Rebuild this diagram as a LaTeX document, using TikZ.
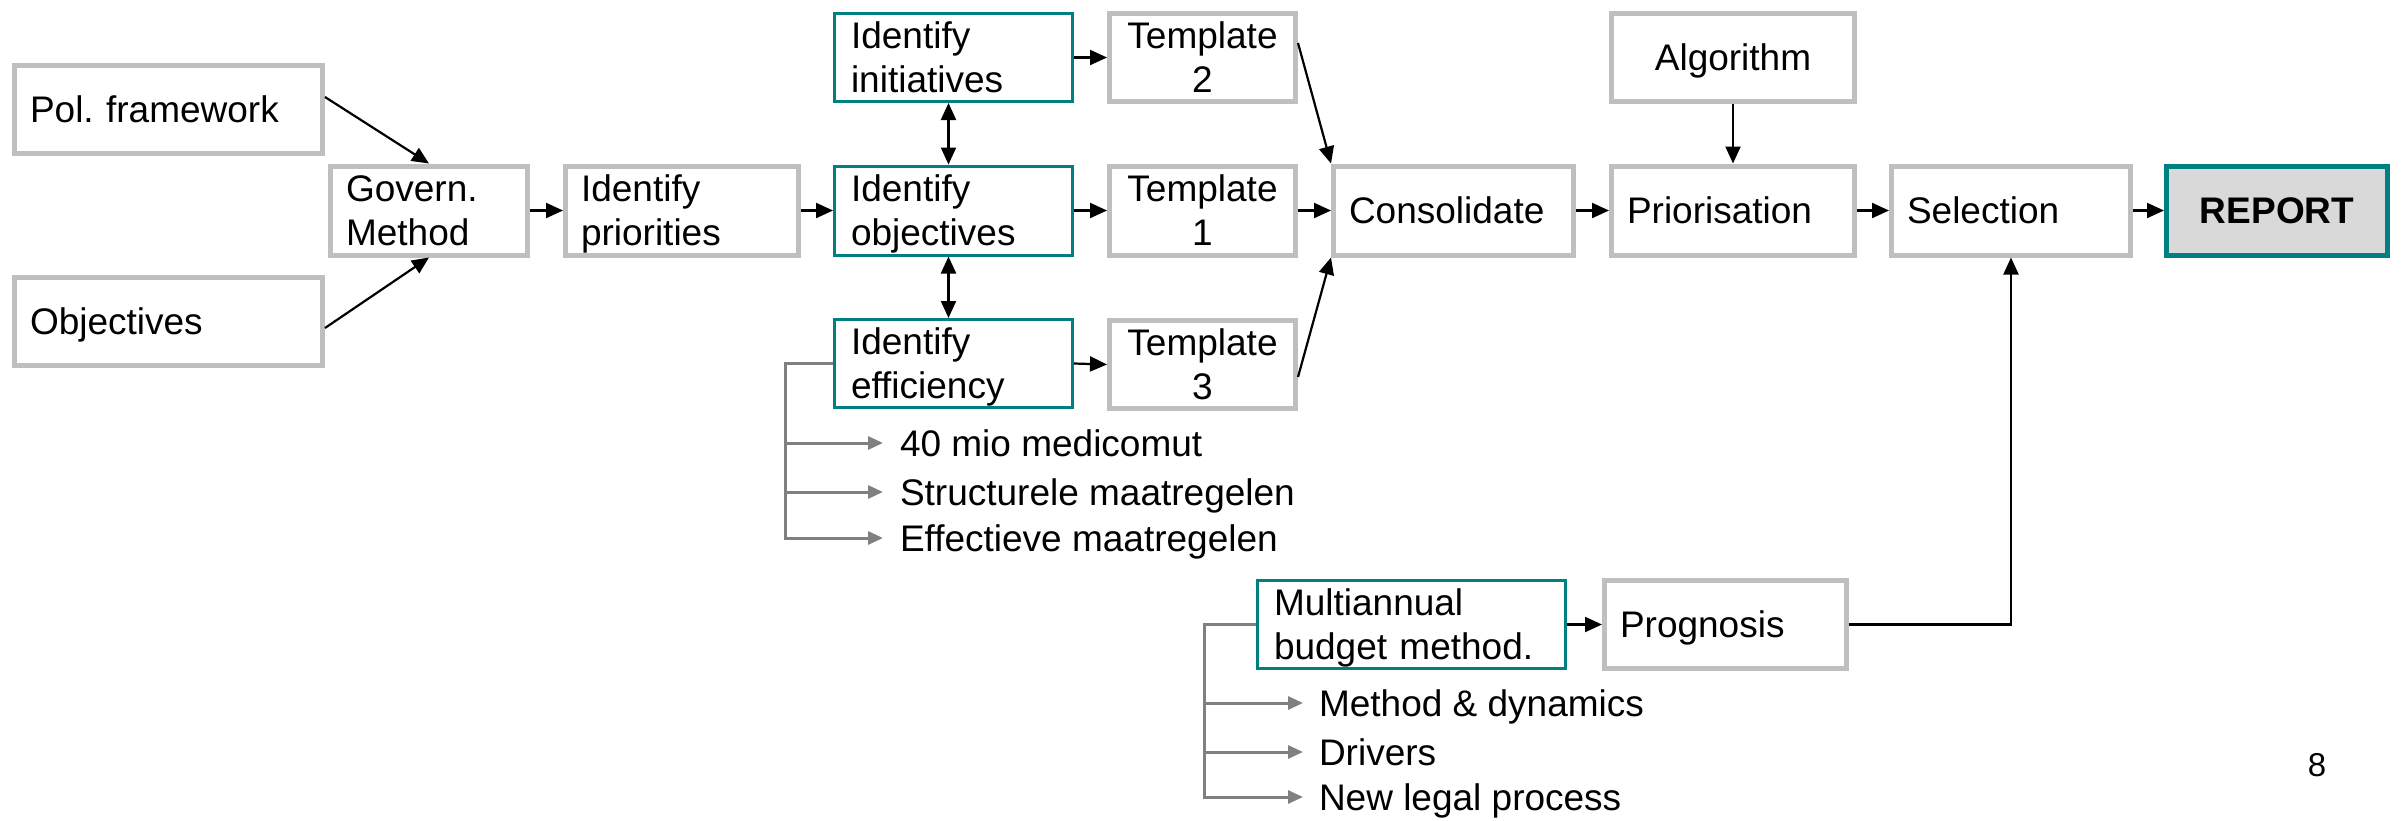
\documentclass[tikz,border=0pt]{standalone}
\usepackage{fontspec}
\setmainfont{Liberation Sans}
\usetikzlibrary{arrows.meta}
\definecolor{boxgray}{RGB}{191,191,191}
\definecolor{tealc}{RGB}{0,128,128}
\definecolor{repfill}{RGB}{217,217,217}
\definecolor{brgray}{RGB}{128,128,128}
\frenchspacing
\begin{document}
\begin{tikzpicture}[x=1pt,y=-1pt,
  every node/.style={font=\fontsize{37pt}{44pt}\selectfont},
  gbox/.style={draw=boxgray, line width=5pt, inner xsep=15.5pt, inner ysep=0pt, align=left},
  tbox/.style={draw=tealc, line width=3pt, inner xsep=16.5pt, inner ysep=0pt, align=left},
  one/.style={text depth=0pt},
  ctr/.style={align=center},
  arr/.style={line width=2.2pt, -{Triangle[length=17pt,width=15pt]}},
  darr/.style={line width=2.2pt, {Triangle[length=17pt,width=15pt]}-{Triangle[length=17pt,width=15pt]}},
  garr/.style={draw=brgray, line width=3pt, -{Triangle[length=15pt,width=13pt]}},
  item/.style={anchor=west, inner xsep=17pt, inner ysep=0pt, outer sep=0pt, text depth=0pt},
]
\useasboundingbox (0,0) rectangle (2402,820);

% left column
\node[gbox, one, text width=277pt, minimum height=88pt] (pol) at (168.5,109.5) {Pol.\ framework};
\node[gbox, one, text width=277pt, minimum height=88pt] (obj) at (168.5,321.5) {Objectives};
\node[gbox, text width=166pt, minimum height=89pt] (gov) at (429,210.5) {Govern.\\Method};
\node[gbox, text width=202pt, minimum height=89pt] (pri) at (682,210.5) {Identify\\\smash{priorities}};

% identify column
\node[tbox, text width=205pt, minimum height=88pt] (ini) at (953.5,57.5) {Identify\\initiatives};
\node[tbox, text width=205pt, minimum height=89pt] (iob) at (953.5,210.5) {Identify\\\smash{objectives}};
\node[tbox, text width=205pt, minimum height=88pt] (ief) at (953.5,363.5) {Identify\\\smash{efficiency}};

% templates
\node[gbox, ctr, text width=155pt, minimum height=88pt] (t2) at (1202.5,57.5) {Template\\2};
\node[gbox, ctr, text width=155pt, minimum height=89pt] (t1) at (1202.5,210.5) {Template\\1};
\node[gbox, ctr, text width=155pt, minimum height=88pt] (t3) at (1202.5,364.5) {Template\\3};

% right part
\node[gbox, one, text width=209pt, minimum height=89pt] (con) at (1453.5,210.5) {Consolidate};
\node[gbox, one, ctr, text width=212pt, minimum height=88pt] (alg) at (1733,57.5) {Algorithm};
\node[gbox, one, text width=212pt, minimum height=89pt] (prio) at (1733,210.5) {Priorisation};
\node[gbox, one, text width=208pt, minimum height=89pt] (sel) at (2011,210.5) {Selection};
\node[draw=tealc, fill=repfill, line width=5pt, inner xsep=15.5pt, inner ysep=0pt, one, align=center,
      text width=190pt, minimum height=89pt, font=\fontsize{37pt}{44pt}\selectfont\bfseries] (rep) at (2277,210.5) {REPORT};

% bottom part
\node[tbox, text width=275pt, minimum height=88pt] (mul) at (1411.5,624.5) {Multiannual\\\smash{budget method.}};
\node[gbox, one, text width=211pt, minimum height=88pt] (prog) at (1725.5,624.5) {Prognosis};

% main connectors
\draw[arr] ([yshift=12.5pt]pol.east) -- (gov.north);
\draw[arr] ([yshift=-6.5pt]obj.east) -- (gov.south);
\draw[arr] (gov.east) -- (pri.west);
\draw[arr] (pri.east) -- (iob.west);
\draw[darr] ([xshift=-5pt]ini.south) -- ([xshift=-5pt]iob.north);
\draw[darr] ([xshift=-5pt]iob.south) -- ([xshift=-5pt]ief.north);
\draw[arr] (ini.east) -- (t2.west);
\draw[arr] (iob.east) -- (t1.west);
\draw[arr] (ief.east) -- (t3.west);
\draw[arr] ([yshift=14.5pt]t2.east) -- (con.north west);
\draw[arr] (t1.east) -- (con.west);
\draw[arr] ([yshift=-12.5pt]t3.east) -- (con.south west);
\draw[arr] (con.east) -- (prio.west);
\draw[arr] (alg.south) -- (prio.north);
\draw[arr] (prio.east) -- (sel.west);
\draw[arr] (sel.east) -- (rep.west);
\draw[arr] (mul.east) -- (prog.west);
\draw[arr] (prog.east) -| (sel.south);

% efficiency bracket
\coordinate (b1) at (785,363.5);
\node[item] (e1) at (883,443) {40 mio medicomut};
\node[item] (e2) at (883,492) {Structurele maatregelen};
\node[item] (e3) at (883,538) {Effectieve maatregelen};
\draw[garr] (ief.west) -- (b1) |- (e3.west);
\draw[garr] (b1 |- e1.west) -- (e1.west);
\draw[garr] (b1 |- e2.west) -- (e2.west);

% budget bracket
\coordinate (b2) at (1204,624.5);
\node[item, inner xsep=16pt] (m1) at (1303,703) {Method \& dynamics};
\node[item, inner xsep=16pt] (m2) at (1303,752) {Drivers};
\node[item, inner xsep=16pt] (m3) at (1303,797) {New legal process};
\draw[garr] (mul.west) -- (b2) |- (m3.west);
\draw[garr] (b2 |- m1.west) -- (m1.west);
\draw[garr] (b2 |- m2.west) -- (m2.west);

% page number
\node[font=\fontsize{33pt}{40pt}\selectfont, text depth=0pt] (pg) at (2317,765) {8};
\end{tikzpicture}
\end{document}
